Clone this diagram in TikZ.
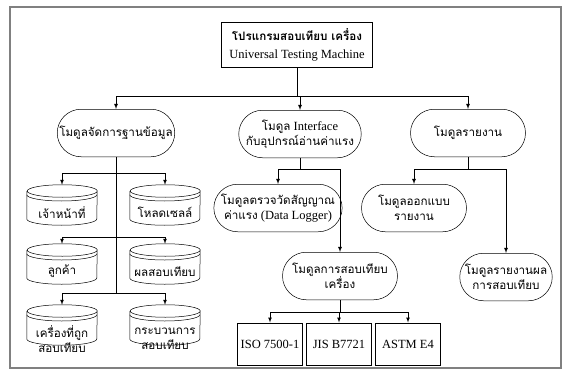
\documentclass[tikz,border=0pt]{standalone}
\usepackage{fontspec}
\setmainfont{Liberation Serif}
\newfontfamily\thaifont[Script=Thai,Scale=0.93]{Loma}
\usetikzlibrary{shapes.misc}
% database drum drawn round an empty node
\newcommand\dbshape[1]{%
  \draw ([yshift=-5pt]#1.north west) -- ([yshift=5pt]#1.south west)
    arc[start angle=180,end angle=360,x radius=28pt,y radius=5pt]
    -- ([yshift=-5pt]#1.north east)
    arc[start angle=0,end angle=360,x radius=28pt,y radius=5pt];
  \draw ([yshift=-8pt]#1.north west)
    arc[start angle=180,end angle=360,x radius=28pt,y radius=5pt];}

\begin{document}
\begin{tikzpicture}[x=0.8pt,y=0.8pt,
	box/.style={draw,align=center,inner sep=1pt},
	module/.style={draw,rounded rectangle,align=center,inner sep=2pt,minimum height=38pt},
	db/.style={minimum width=56pt,minimum height=32pt,inner sep=0pt},
	dbtext/.style={align=center,yshift=-6pt,inner sep=0pt,font=\thaifont}]
\useasboundingbox (0,0) rectangle (570,-375);
\draw[gray,line width=1pt] (10,-7) rectangle (561,-368);

	\node[box,minimum width=121pt,minimum height=36pt](prog) at (297,-45){{\thaifont\bfseries โปรแกรมสอบเทียบ เครื่อง}\\[2pt]Universal Testing Machine};

	\node[module,minimum width=98pt,font=\thaifont](dbmod) at (116,-133){โมดูลจัดการฐานข้อมูล};
	\node[module,minimum width=96pt](ifmod) at (300,-134){{\thaifont โมดูล} Interface\\{\thaifont กับอุปกรณ์อ่านค่าแรง}};
	\node[module,minimum width=96pt,font=\thaifont](repmod) at (468,-133){โมดูลรายงาน};
	\draw(prog.south)--++(0,-28)coordinate(topbus);
	\draw[-latex](topbus)-|(dbmod);
	\draw[-latex](topbus)-|(ifmod);
	\draw[-latex](topbus)-|(repmod);

%database side
	\node[db,label={[dbtext]center:เจ้าหน้าที่}](staff) at (62,-205){};
	\node[db,label={[dbtext]center:โหลดเซลล์}](load) at (165,-205){};
	\node[db,label={[dbtext]center:ลูกค้า}](cust) at (62,-264){};
	\node[db,label={[dbtext]center:ผลสอบเทียบ}](result) at (165,-264){};
	\node[db,label={[dbtext,yshift=-5pt]center:{เครื่องที่ถูก\\สอบเทียบ}}](machine) at (62,-325){};
	\node[db,label={[dbtext,yshift=-5pt]center:{กระบวนการ\\สอบเทียบ}}](process) at (165,-325){};
	\foreach \n in {staff,load,cust,result,machine,process}{\dbshape{\n}}
	\path(dbmod.south)++(0,-16)coordinate(bus1)++(0,-64)coordinate(bus2)++(0,-56)coordinate(bus3);
	\draw(dbmod.south)--(bus3);
	\draw[-latex](bus1)-|(staff);
	\draw[-latex](bus1)-|(load);
	\draw[-latex](bus2)-|(cust);
	\draw[-latex](bus2)-|(result);
	\draw[-latex](bus3)-|(machine);
	\draw[-latex](bus3)-|(process);

%interface side
	\node[module,minimum width=89pt](logger) at (278,-208){{\thaifont โมดูลตรวจวัดสัญญาณ}\\{\thaifont ค่าแรง} (Data Logger)};
	\node[module,minimum width=96pt,font=\thaifont](calib) at (340,-276){โมดูลการสอบเทียบ\\เครื่อง};
	\draw(ifmod.south)--++(0,-11)coordinate(ifbus);
	\draw[-latex](ifbus)-|(logger);
	\draw[-latex](ifbus)-|(calib);

	\node[box,minimum width=52pt,minimum height=34pt](iso) at (270,-344){ISO 7500-1};
	\node[box,minimum width=52pt,minimum height=34pt](jis) at (339,-344){JIS B7721};
	\node[box,minimum width=52pt,minimum height=34pt](astm) at (408,-344){ASTM E4};
	\draw(calib.south)--++(0,-12)coordinate(calbus);
	\draw[-latex](calbus)-|(iso);
	\draw[-latex](calbus)-|(jis);
	\draw[-latex](calbus)-|(astm);

%report side
	\node[module,minimum width=88pt,font=\thaifont](design) at (414,-208){โมดูลออกแบบ\\รายงาน};
	\node[module,minimum width=78pt,font=\thaifont](report) at (506,-277){โมดูลรายงานผล\\การสอบเทียบ};
	\draw(repmod.south)--++(0,-12)coordinate(repbus);
	\draw[-latex](repbus)-|(design);
	\draw[-latex](repbus)-|(report);
\end{tikzpicture}
\end{document}
